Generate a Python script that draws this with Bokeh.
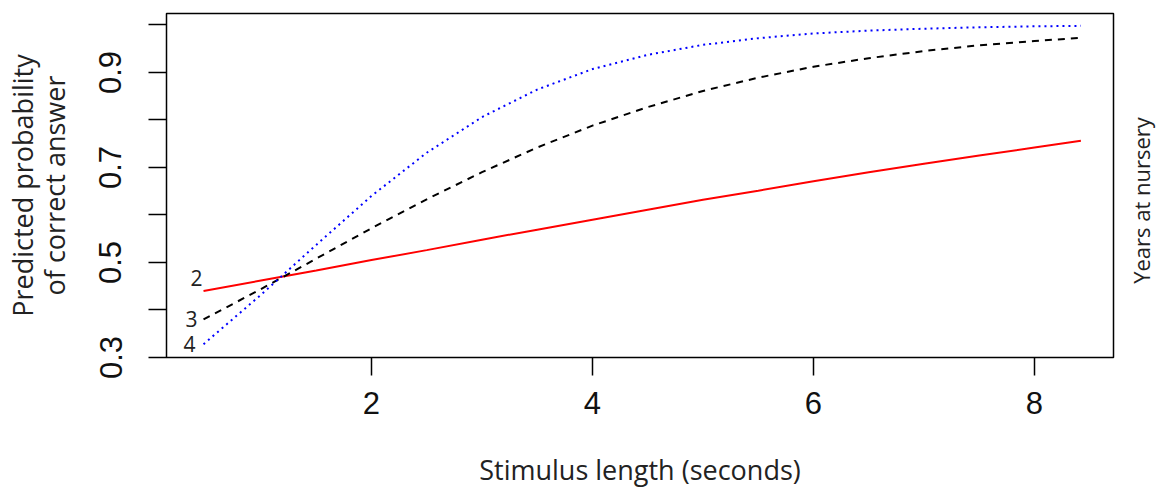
import math
from bokeh.plotting import figure
from bokeh.models import LinearAxis, FixedTicker, Range1d, ColumnDataSource
from bokeh.core.properties import value
from bokeh.embed import file_html
from bokeh.resources import INLINE

# ---- data ----
stimulus = [0.48, 1.0, 1.5, 2.0, 2.5, 3.0, 3.5, 4.0, 4.5, 5.0, 5.5, 6.0, 6.5, 7.0, 7.5, 8.0, 8.42]
years_2 = [0.440, 0.462, 0.483, 0.505, 0.526, 0.548, 0.569, 0.590, 0.611, 0.632, 0.651, 0.671, 0.690, 0.708, 0.725, 0.742, 0.756]
years_3 = [0.380, 0.444, 0.508, 0.572, 0.633, 0.690, 0.742, 0.788, 0.827, 0.861, 0.889, 0.912, 0.930, 0.945, 0.957, 0.966, 0.973]
years_4 = [0.328, 0.432, 0.537, 0.640, 0.731, 0.806, 0.864, 0.907, 0.937, 0.958, 0.972, 0.982, 0.988, 0.992, 0.995, 0.997, 0.998]
group_names = ["2", "3", "4"]
x_ticks = [2, 4, 6, 8]
y_ticks = [0.3, 0.4, 0.5, 0.6, 0.7, 0.8, 0.9, 1.0]
y_labelled = [0.3, 0.5, 0.7, 0.9]
legend_title = "Years at nursery"

TXT = "#222222"
FW, FH = 947, 344
RIGHT_TITLE_Y = 0.455  # where the right-hand title starts (it reads upwards)

p = figure(frame_width=FW, frame_height=FH,
           x_range=Range1d(0.145, 8.715), y_range=Range1d(0.3, 1.024),
           output_backend="svg", toolbar_location=None,
           min_border_left=160, min_border_top=13, min_border_right=46, min_border_bottom=122)
p.xgrid.grid_line_color = None
p.ygrid.grid_line_color = None
p.outline_line_color = "black"
p.outline_line_width = 1.5
p.outline_line_alpha = 1.0
p.background_fill_color = "white"
p.border_fill_color = "white"

# lines
p.line(stimulus, years_2, line_color="#ff0000", line_width=2)
p.line(stimulus, years_3, line_color="black", line_width=2, line_dash="7 6")
p.line(stimulus, years_4, line_color="#0000ff", line_width=2, line_dash="2 4")

# group labels at line starts
lab_src = ColumnDataSource(dict(
    x=[stimulus[0]] * 3,
    y=[years_2[0], years_3[0], years_4[0]],
    t=group_names,
    xo=[-1, -6, -8],
    yo=[-13, 0, 0],
))
p.text(x="x", y="y", text="t", x_offset="xo", y_offset="yo", source=lab_src,
       text_align="right", text_baseline="middle",
       text_font=value("Open Sans"), text_font_size="21px", text_color=TXT)

# x axis
xa = p.xaxis[0]
xa.ticker = FixedTicker(ticks=x_ticks)
xa.axis_line_color = None
xa.major_tick_out = 18
xa.major_tick_in = 0
xa.major_tick_line_width = 1.5
xa.minor_tick_line_color = None
xa.major_label_text_font = "Liberation Sans"
xa.major_label_text_font_size = "31px"
xa.major_label_text_color = "#111111"
xa.major_label_standoff = 16
xa.axis_label = "Stimulus length (seconds)"
xa.axis_label_text_font = "Open Sans"
xa.axis_label_text_font_size = "27px"
xa.axis_label_text_font_style = "normal"
xa.axis_label_text_color = TXT
xa.axis_label_standoff = 34

# y axis
ya = p.yaxis[0]
ya.ticker = FixedTicker(ticks=y_ticks)
ya.major_label_overrides = {t: "" for t in y_ticks if t not in y_labelled}
ya.axis_line_color = None
ya.major_tick_out = 18
ya.major_tick_in = 0
ya.major_tick_line_width = 1.5
ya.minor_tick_line_color = None
ya.major_label_orientation = "vertical"
ya.major_label_text_font = "Liberation Sans"
ya.major_label_text_font_size = "31px"
ya.major_label_text_color = "#111111"
ya.major_label_standoff = 27
ya.axis_label = "of correct answer"
ya.axis_label_text_font = "Open Sans"
ya.axis_label_text_font_size = "27px"
ya.axis_label_text_font_style = "normal"
ya.axis_label_text_color = TXT
ya.axis_label_standoff = 24

ya2 = LinearAxis(ticker=FixedTicker(ticks=[]), axis_line_color=None,
                 major_tick_out=0, major_tick_in=0, minor_tick_line_color=None,
                 axis_label="Predicted probability",
                 axis_label_text_font="Open Sans", axis_label_text_font_size="27px",
                 axis_label_text_font_style="normal", axis_label_text_color=TXT,
                 axis_label_standoff=-8)
p.add_layout(ya2, "left")

# right-hand title, reading bottom-to-top, drawn as a single tick label
ra = LinearAxis(ticker=FixedTicker(ticks=[RIGHT_TITLE_Y]), axis_line_color=None,
                major_tick_out=0, major_tick_in=0, minor_tick_line_color=None,
                major_label_overrides={RIGHT_TITLE_Y: legend_title},
                major_label_orientation=math.pi / 2,
                major_label_text_font="Open Sans", major_label_text_font_size="22px",
                major_label_text_color=TXT, major_label_standoff=28)
p.add_layout(ra, "right")

open("out.html", "w").write(file_html(p, INLINE))
